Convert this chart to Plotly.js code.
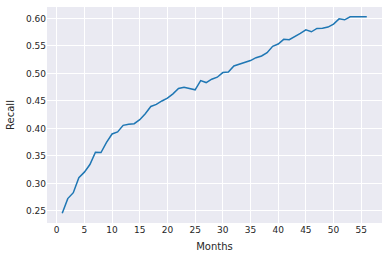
<!DOCTYPE html>
<html>
<head>
<meta charset="utf-8">
<script src="https://cdn.plot.ly/plotly-3.0.1.min.js"></script>
<style>html,body{margin:0;padding:0;background:#fff;}#chart{width:388px;height:259px;}</style>
</head>
<body>
<div id="chart"></div>
<script>
const months = [1,2,3,4,5,6,7,8,9,10,11,12,13,14,15,16,17,18,19,20,21,22,23,24,25,26,27,28,29,30,31,32,33,34,35,36,37,38,39,40,41,42,43,44,45,46,47,48,49,50,51,52,53,54,55,56];
const recall = [0.246,0.2725,0.2833,0.3105,0.3206,0.3345,0.3568,0.3562,0.3749,0.390,0.3937,0.4057,0.4075,0.4087,0.416,0.4268,0.440,0.4437,0.450,0.4552,0.463,0.4726,0.475,0.4733,0.4703,0.4871,0.4835,0.4896,0.4932,0.5016,0.5028,0.5137,0.5168,0.521,0.5235,0.5287,0.5318,0.5378,0.5493,0.5535,0.562,0.5613,0.5667,0.5728,0.5794,0.5758,0.5819,0.5824,0.5843,0.5897,0.5993,0.5975,0.603,0.603,0.603,0.603];
const xTicks = [0,5,10,15,20,25,30,35,40,45,50,55];
const yTicks = [0.25,0.30,0.35,0.40,0.45,0.50,0.55,0.60];

const trace = {
  x: months, y: recall, type: 'scatter', mode: 'lines',
  line: {color: '#1f77b4', width: 1.5}, hoverinfo: 'skip'
};
const xmin = Math.min(...months), xmax = Math.max(...months);
const ymin = Math.min(...recall), ymax = Math.max(...recall);
const xp = (xmax - xmin) * 0.05, yp = (ymax - ymin) * 0.05;
const layout = {
  width: 388, height: 259,
  margin: {l: 47, r: 6, t: 7, b: 36},
  paper_bgcolor: '#ffffff', plot_bgcolor: '#EAEAF2',
  font: {family: 'DejaVu Sans, sans-serif', size: 9, color: '#262626'},
  showlegend: false,
  xaxis: {
    range: [xmin - xp, xmax + xp], tickvals: xTicks, ticktext: xTicks.map(String),
    showgrid: true, gridcolor: '#ffffff', gridwidth: 1, zeroline: false,
    showline: false, ticks: '', ticklen: 0, tickfont: {size: 9, color: '#262626'},
    title: {text: 'Months', font: {size: 10, color: '#262626'}, standoff: 8}
  },
  yaxis: {
    range: [ymin - yp, ymax + yp], tickvals: yTicks, ticktext: yTicks.map(v => v.toFixed(2)),
    showgrid: true, gridcolor: '#ffffff', gridwidth: 1, zeroline: false,
    showline: false, ticks: '', ticklen: 0, tickfont: {size: 9, color: '#262626'},
    title: {text: 'Recall', font: {size: 10, color: '#262626'}, standoff: 9}
  }
};
Plotly.newPlot('chart', [trace], layout, {staticPlot: true, displayModeBar: false});
</script>
</body>
</html>
